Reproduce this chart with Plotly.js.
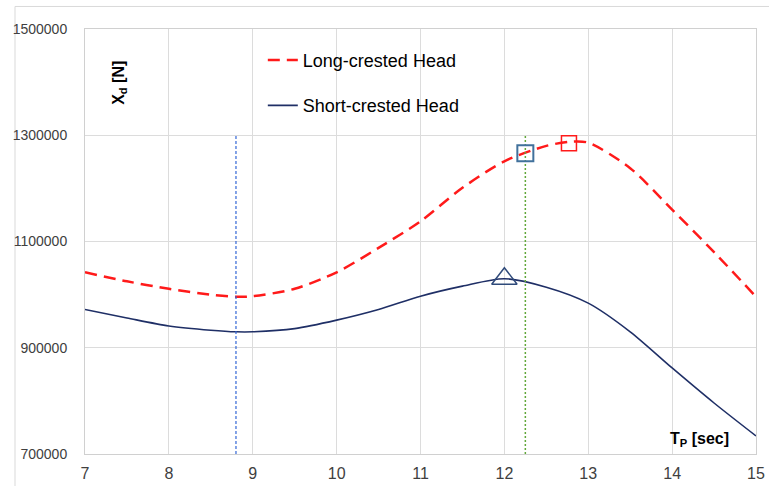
<!DOCTYPE html>
<html>
<head>
<meta charset="utf-8">
<script src="https://cdn.plot.ly/plotly-3.0.1.min.js"></script>
<style>
  html, body { margin: 0; padding: 0; background: #ffffff; }
  #chart { width: 769px; height: 486px; }
</style>
</head>
<body>
<div id="chart"></div>
<script>
// Peak period T_P [sec]
const periods = [7, 7.5, 8, 8.5, 8.8, 9, 9.5, 10, 10.5, 11, 11.5, 12, 12.5, 12.8, 13, 13.5, 14, 14.5, 15];

// Horizontal drift force X_d [N]
const longCrested  = [1042000, 1025000, 1011000, 1000000, 996000, 997000, 1011000, 1042000, 1088000, 1138000,
                      1201000, 1251000, 1280000, 1288000, 1286000, 1238000, 1160000, 1080000, 996000];
const shortCrested = [972000, 956000, 941000, 933000, 930000, 930000, 936000, 952000, 972000, 997000,
                      1016000, 1030000, 1014000, 984000, 930000, 862000, 796000, 734000];
const shortPeriods = [7, 7.5, 8, 8.5, 8.8, 9, 9.5, 10, 10.5, 11, 11.5, 12, 12.5, 13, 13.5, 14, 14.5, 15];

// Reference periods marked with vertical lines
const refPeriodA = [8.8, 8.8];
const refPeriodB = [12.25, 12.25];
const refSpan    = [700000, 1300000];

// Highlighted points
const triPoint   = { x: [12.0],  y: [1030000] };
const bluePoint  = { x: [12.25], y: [1266000] };
const redPoint   = { x: [12.77], y: [1285000] };

const xTicks = [7, 8, 9, 10, 11, 12, 13, 14, 15];
const yTicks = [700000, 900000, 1100000, 1300000, 1500000];

const traces = [
  {
    x: periods, y: longCrested, type: 'scatter', mode: 'lines',
    name: 'Long-crested Head', legendgroup: 'a',
    line: { color: '#FF1A1A', width: 2.5, dash: '12px,7px', shape: 'spline', smoothing: 0.8 }
  },
  {
    x: shortPeriods, y: shortCrested, type: 'scatter', mode: 'lines',
    name: 'Short-crested Head', legendgroup: 'b',
    line: { color: '#1F2F66', width: 1.6, shape: 'spline', smoothing: 0.8 }
  },
  {
    x: refPeriodA, y: refSpan, type: 'scatter', mode: 'lines', showlegend: false,
    line: { color: '#3366D6', width: 1.2, dash: '3px,2px' }
  },
  {
    x: refPeriodB, y: refSpan, type: 'scatter', mode: 'lines', showlegend: false,
    line: { color: '#62A83A', width: 1.5, dash: '2px,2px' }
  },
  {
    x: triPoint.x, y: triPoint.y, type: 'scatter', mode: 'markers', showlegend: false,
    marker: { symbol: 'triangle-up-open', size: 22, color: '#2F4A7A', line: { width: 1.5, color: '#2F4A7A' } }
  },
  {
    x: bluePoint.x, y: bluePoint.y, type: 'scatter', mode: 'markers', showlegend: false,
    marker: { symbol: 'square-open', size: 16, color: '#41719C', line: { width: 2, color: '#41719C' } }
  },
  {
    x: redPoint.x, y: redPoint.y, type: 'scatter', mode: 'markers', showlegend: false,
    marker: { symbol: 'square-open', size: 15, color: '#FF1A1A', line: { width: 1.5, color: '#FF1A1A' } }
  }
];

const layout = {
  width: 769, height: 486,
  margin: { l: 85, r: 13, t: 29, b: 32 },
  paper_bgcolor: '#ffffff', plot_bgcolor: '#ffffff',
  font: { family: 'Liberation Sans, Arial, sans-serif', color: '#595959' },
  showlegend: true,
  legend: {
    x: 0.265, y: 0.97, xanchor: 'left', yanchor: 'top',
    bgcolor: 'rgba(0,0,0,0)', tracegroupgap: 19,
    font: { size: 18, color: '#000000', family: 'Liberation Sans, Arial, sans-serif' }
  },
  xaxis: {
    range: [7, 15], tickvals: xTicks, ticktext: xTicks.map(String),
    showgrid: true, gridcolor: '#DCDCDC', gridwidth: 1,
    zeroline: false, showline: true, mirror: true, linecolor: '#D0D0D0', linewidth: 1,
    ticks: '', ticklabelstandoff: 5,
    tickfont: { size: 16, color: '#404040' }
  },
  yaxis: {
    range: [700000, 1500000], tickvals: yTicks, ticktext: yTicks.map(String),
    showgrid: true, gridcolor: '#DCDCDC', gridwidth: 1,
    zeroline: false, showline: true, mirror: true, linecolor: '#D0D0D0', linewidth: 1,
    ticks: '', ticklabelstandoff: 14,
    tickfont: { size: 14, color: '#404040' }
  },
  annotations: [
    {
      text: '<b>X<sub>d</sub> [N]</b>', xref: 'paper', yref: 'paper',
      x: 0.052, y: 0.873, xanchor: 'center', yanchor: 'middle', textangle: -90,
      showarrow: false, font: { size: 16, color: '#000000' }
    },
    {
      text: '<b>T<sub>P</sub> [sec]</b>', xref: 'paper', yref: 'paper',
      x: 0.916, y: 0.033, xanchor: 'center', yanchor: 'middle',
      showarrow: false, font: { size: 16, color: '#000000' }
    }
  ],
  shapes: [
    {
      type: 'rect', xref: 'paper', yref: 'paper',
      x0: -0.1043, x1: 1.2, y0: -0.2, y1: 1.053,
      line: { color: '#D9D9D9', width: 1 }, fillcolor: 'rgba(0,0,0,0)', layer: 'below'
    }
  ]
};

Plotly.newPlot('chart', traces, layout, { staticPlot: true, displayModeBar: false });
</script>
</body>
</html>
